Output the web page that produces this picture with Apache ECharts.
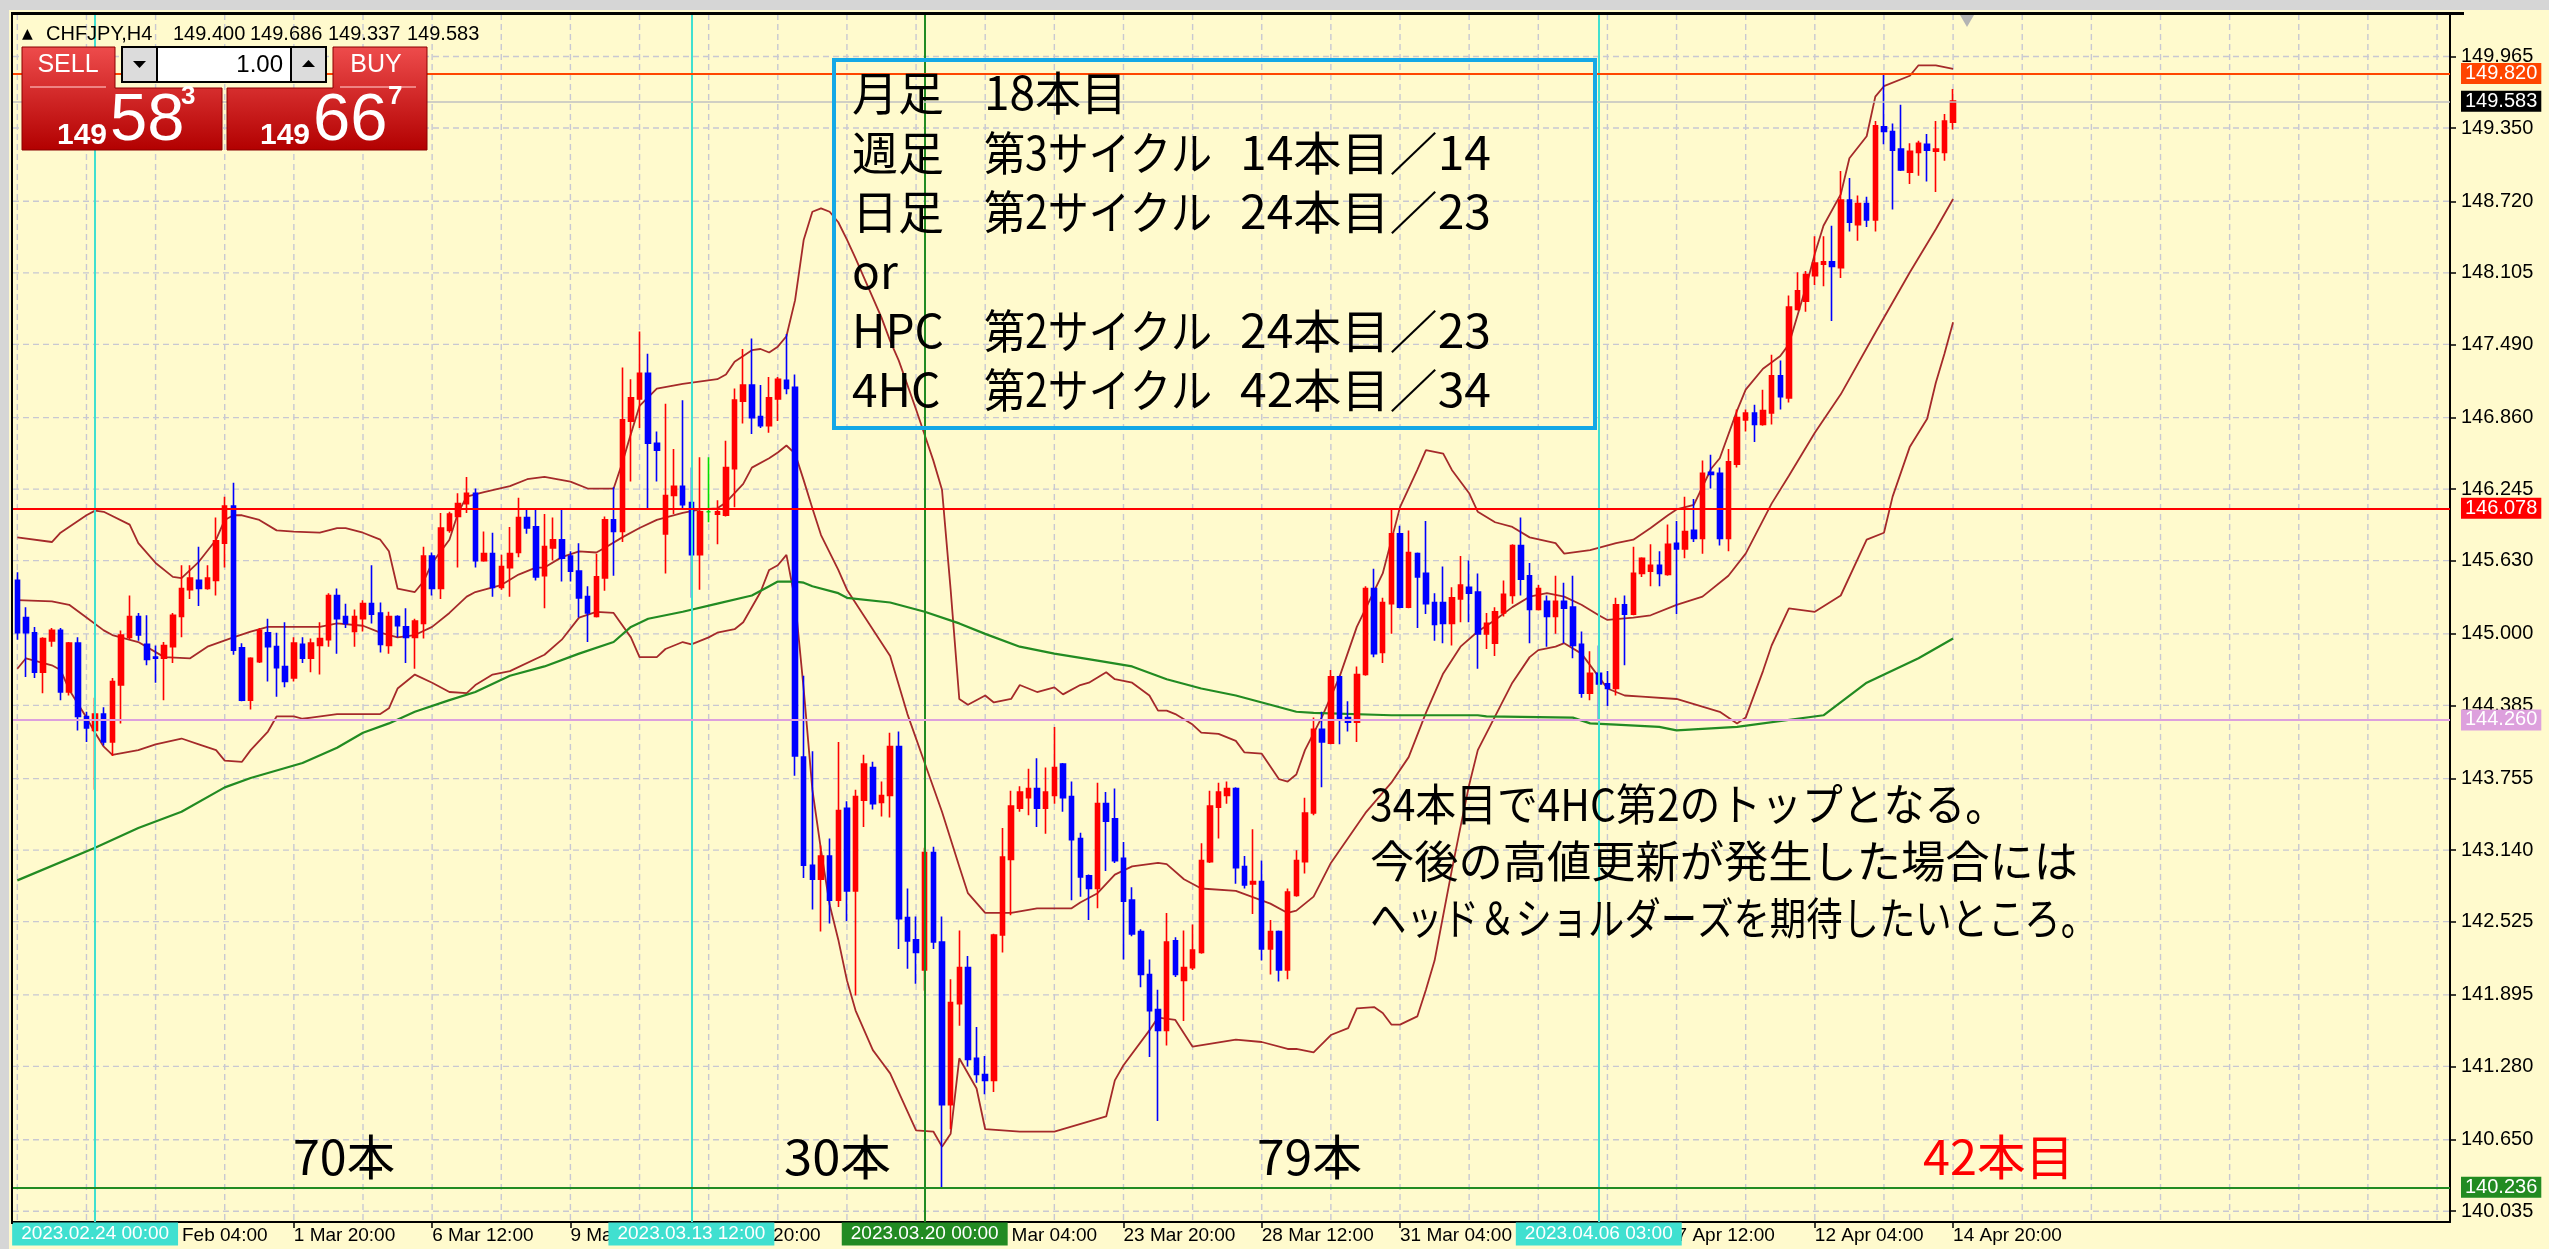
<!DOCTYPE html>
<html>
<head>
<meta charset="utf-8">
<title>CHFJPY H4</title>
<script src="https://cdn.jsdelivr.net/npm/echarts@6/dist/echarts.min.js"></script>
<style>
  html, body { margin: 0; padding: 0; background: #fffacd; }
  #chart { width: 2549px; height: 1249px; }
</style>
</head>
<body>
<div id="chart"></div>
<script>
// H4 bars: [open, close, low, high]
var candles = [
  [145.46,145.01,144.95,145.53],[145.14,145.01,144.63,145.23],[145.01,144.67,144.62,145.06],[144.67,144.96,144.49,144.97],
  [144.94,145.03,144.89,145.05],[145.03,144.50,144.43,145.05],[144.50,144.92,144.47,144.93],[144.92,144.29,144.17,144.97],
  [144.29,144.19,144.07,144.33],[144.17,144.31,143.66,144.45],[144.31,144.07,144.04,144.37],[144.07,144.59,143.95,144.62],
  [144.56,144.99,144.23,145.03],[144.97,145.15,144.95,145.33],[145.15,144.99,144.94,145.18],[144.91,144.78,144.73,145.16],
  [144.80,144.79,144.58,144.90],[144.79,144.90,144.43,144.93],[144.89,145.16,144.75,145.18],[145.15,145.39,144.97,145.59],
  [145.38,145.48,145.30,145.59],[145.46,145.39,145.24,145.75],[145.39,145.48,145.38,145.59],[145.46,145.80,145.33,146.00],
  [145.78,146.10,145.57,146.18],[146.10,144.86,144.82,146.30],[144.88,144.43,144.42,144.92],[144.43,144.79,144.35,144.80],
  [144.76,145.03,144.75,145.05],[145.01,144.89,144.59,145.13],[144.89,144.71,144.46,145.01],[144.72,144.59,144.54,145.10],
  [144.62,144.92,144.59,144.97],[144.91,144.79,144.75,144.97],[144.79,144.92,144.67,144.96],[144.90,144.96,144.65,145.10],
  [144.95,145.33,144.89,145.35],[145.33,145.13,144.83,145.39],[145.15,145.09,145.05,145.26],[145.02,145.15,144.89,145.21],
  [145.13,145.26,145.02,145.29],[145.26,145.17,145.09,145.59],[145.18,144.91,144.84,145.27],[144.90,145.15,144.83,145.19],
  [145.15,145.07,144.97,145.16],[145.06,144.97,144.75,145.22],[144.97,145.11,144.70,145.13],[145.09,145.67,144.96,145.75],
  [145.67,145.39,145.33,145.70],[145.39,145.91,145.30,146.04],[145.89,146.03,145.87,146.05],[146.01,146.12,145.57,146.21],
  [146.12,146.21,146.04,146.35],[146.21,145.63,145.57,146.25],[145.63,145.69,145.62,145.88],[145.69,145.40,145.32,145.87],
  [145.40,145.58,145.38,145.68],[145.57,145.69,145.32,145.92],[145.70,146.00,145.66,146.17],[146.00,145.91,145.86,146.08],
  [145.92,145.49,145.46,146.08],[145.50,145.75,145.22,146.03],[145.74,145.81,145.63,146.00],[145.81,145.65,145.45,146.08],
  [145.67,145.54,145.45,145.71],[145.54,145.31,145.14,145.78],[145.32,145.18,144.93,145.41],[145.15,145.49,145.14,145.69],
  [145.48,145.98,145.37,146.01],[145.98,145.88,145.50,146.26],[145.88,146.84,145.79,147.29],[146.83,147.03,146.31,147.19],
  [147.02,147.24,146.77,147.60],[147.24,146.64,146.07,147.41],[146.64,146.58,146.31,146.74],[145.86,146.19,145.52,146.98],
  [146.19,146.27,146.03,146.59],[146.27,146.11,146.08,147.01],[146.13,145.68,145.31,146.43],[145.68,146.05,145.38,146.52],
  [146.05,146.05,145.96,146.52],[146.03,146.05,145.77,146.15],[146.02,146.43,146.01,146.66],[146.42,147.01,146.09,147.11],
  [147.00,147.14,146.81,147.45],[147.14,146.86,146.72,147.54],[146.87,146.79,146.77,147.14],[146.79,147.03,146.73,147.21],
  [147.02,147.19,146.83,147.21],[147.18,147.11,147.06,147.58],[147.12,143.95,143.78,147.23],[143.94,143.01,142.90,144.64],
  [143.01,142.89,142.63,143.99],[142.89,143.09,142.44,143.18],[143.09,142.71,142.51,143.24],[142.71,143.48,142.65,144.07],
  [143.50,142.79,142.53,143.56],[142.79,143.60,141.89,143.66],[143.57,143.88,143.34,143.96],[143.85,143.54,143.49,143.90],
  [143.55,143.61,143.43,143.73],[143.61,144.03,143.42,144.15],[144.03,142.55,142.29,144.16],[142.56,142.36,142.12,142.81],
  [142.37,142.26,141.99,142.57],[142.11,143.12,141.93,143.16],[143.12,142.35,142.29,143.17],[142.35,140.95,140.236,142.57],
  [140.95,141.83,140.74,142.03],[141.82,142.13,141.63,142.45],[142.13,141.34,141.28,142.23],[141.35,141.21,141.14,141.62],
  [141.21,141.16,141.04,141.37],[141.16,142.41,141.06,142.42],[142.41,143.08,142.26,143.33],[143.06,143.52,142.58,143.65],
  [143.50,143.64,143.47,143.69],[143.59,143.67,143.44,143.84],[143.67,143.50,143.34,143.93],[143.50,143.64,143.28,143.85],
  [143.61,143.85,143.54,144.20],[143.88,143.59,143.47,143.89],[143.60,143.23,142.71,143.73],[143.24,142.91,142.74,143.29],
  [142.92,142.81,142.54,142.93],[142.81,143.54,142.64,143.72],[143.54,143.39,142.96,143.64],[143.41,143.05,143.03,143.67],
  [143.07,142.70,142.20,143.21],[142.71,142.42,142.40,142.82],[142.44,142.07,141.96,142.46],[142.07,141.76,141.36,142.20],
  [141.77,141.59,140.81,141.94],[141.59,142.35,141.46,142.60],[142.36,142.07,142.05,142.39],[142.02,142.13,141.67,142.45],
  [142.13,142.28,142.11,142.50],[142.26,143.05,142.25,143.20],[143.04,143.52,143.03,143.65],[143.51,143.64,143.24,143.72],
  [143.61,143.67,143.54,143.73],[143.67,142.99,142.85,143.68],[143.00,142.84,142.81,143.09],[142.85,142.87,142.59,143.32],
  [142.87,142.29,142.19,143.05],[142.29,142.44,142.07,142.54],[142.44,142.11,142.01,142.45],[142.11,142.78,142.03,142.81],
  [142.75,143.05,142.74,143.14],[143.04,143.46,142.94,143.59],[143.46,144.18,143.44,144.28],[144.18,144.07,143.68,144.33],
  [144.06,144.63,144.05,144.69],[144.63,144.27,144.05,144.64],[144.28,144.24,144.16,144.42],[144.24,144.65,144.07,144.72],
  [144.65,145.39,144.64,145.41],[145.39,144.83,144.80,145.56],[144.84,145.27,144.75,145.31],[145.26,145.86,145.00,146.078],
  [145.86,145.23,145.22,145.93],[145.23,145.70,145.22,145.89],[145.69,145.49,145.05,145.70],[145.52,145.26,145.17,145.97],
  [145.27,145.08,144.94,145.35],[145.27,145.09,144.92,145.58],[145.09,145.31,144.90,145.40],[145.30,145.42,145.10,145.67],
  [145.40,145.35,145.10,145.63],[145.36,145.00,144.70,145.52],[145.00,145.09,144.87,145.18],[144.92,145.19,144.81,145.23],
  [145.18,145.34,145.15,145.46],[145.33,145.76,145.26,145.77],[145.76,145.47,145.33,146.00],[145.50,145.21,144.92,145.61],
  [145.21,145.39,145.20,145.42],[145.28,145.15,144.89,145.33],[145.15,145.28,145.00,145.50],[145.28,145.22,144.92,145.44],
  [145.23,144.90,144.79,145.50],[144.91,144.49,144.45,145.02],[144.49,144.66,144.43,144.85],[144.66,144.57,144.26,144.90],
  [144.57,144.53,144.38,144.68],[144.53,145.25,144.47,145.31],[145.25,145.17,144.73,145.33],[145.17,145.52,145.16,145.75],
  [145.52,145.65,145.49,145.66],[145.54,145.59,145.41,145.77],[145.59,145.52,145.41,145.71],[145.51,145.77,145.50,145.94],
  [145.78,145.73,145.17,145.97],[145.73,145.88,145.65,146.18],[145.89,145.82,145.79,146.16],[145.82,146.38,145.69,146.49],
  [146.39,146.37,146.25,146.54],[146.38,145.82,145.76,146.43],[145.82,146.48,145.71,146.59],[146.46,146.86,146.43,146.93],
  [146.84,146.90,146.74,146.93],[146.90,146.80,146.65,146.97],[146.80,146.92,146.79,147.10],[146.90,147.22,146.80,147.40],
  [147.22,147.04,146.93,147.35],[147.03,147.81,146.99,147.91],[147.79,147.95,147.78,148.11],[147.86,148.09,147.77,148.12],
  [148.08,148.19,148.00,148.42],[148.18,148.20,147.99,148.42],[148.20,148.16,147.69,148.51],[148.15,148.73,148.06,148.98],
  [148.73,148.54,148.46,148.92],[148.52,148.70,148.38,148.77],[148.70,148.56,148.50,148.76],[148.56,149.37,148.46,149.41],
  [149.36,149.32,149.21,149.82],[149.32,149.16,148.65,149.39],[149.17,148.99,148.98,149.55],[148.97,149.15,148.87,149.22],
  [149.14,149.22,148.94,149.24],[149.21,149.16,148.89,149.30],[149.15,149.17,148.80,149.41],[149.14,149.41,149.07,149.47],
  [149.400,149.583,149.337,149.686]
];
var dojiBar = 80;

// Bollinger bands (upper / middle / lower) and long moving average, [bar, price]
var bbUpper = [[0,145.83],[4,145.79],[5,145.87],[8,146.02],[9,146.06],[10,146.05],[13,145.94],[14,145.78],[16,145.61],[18,145.49],[19,145.48],[21,145.62],[23,145.81],[24,145.98],[25,146.02],[26,146.02],[28,145.98],[30,145.89],[32,145.88],[35,145.87],[37,145.91],[38,145.91],[40,145.87],[42,145.81],[43,145.71],[44,145.39],[46,145.36],[47,145.45],[48,145.61],[50,145.81],[51,146.04],[52,146.18],[53,146.20],[54,146.22],[57,146.27],[59,146.33],[61,146.35],[64,146.31],[66,146.25],[69,146.25],[70,146.47],[71,146.72],[72,146.96],[74,147.11],[77,147.15],[81,147.19],[82,147.23],[83,147.34],[85,147.44],[86,147.45],[87,147.42],[88,147.47],[89,147.56],[90,147.87],[91,148.39],[92,148.63],[93,148.66],[94,148.63],[95,148.54],[96,148.39],[97,148.23],[98,148.06],[99,147.89],[100,147.72],[101,147.52],[102,147.35],[103,147.14],[104,146.93],[105,146.71],[106,146.49],[107,146.24],[108,145.38],[109,144.44],[110,144.39],[112,144.47],[113,144.41],[115,144.44],[116,144.56],[118,144.50],[120,144.54],[121,144.48],[123,144.56],[124,144.58],[126,144.67],[127,144.61],[129,144.58],[131,144.47],[132,144.34],[133,144.34],[134,144.31],[136,144.22],[137,144.15],[139,144.14],[141,144.08],[142,143.98],[144,143.97],[145,143.86],[146,143.75],[147,143.73],[148,143.79],[149,144.00],[151,144.29],[153,144.63],[155,145.06],[158,145.52],[160,146.09],[162,146.41],[163,146.58],[165,146.55],[166,146.41],[168,146.21],[169,146.05],[171,145.96],[173,145.92],[175,145.83],[178,145.78],[179,145.69],[182,145.72],[185,145.78],[187,145.81],[189,145.91],[191,146.02],[192,146.07],[194,146.11],[196,146.42],[197,146.51],[199,146.92],[200,147.10],[202,147.28],[204,147.39],[205,147.49],[206,147.74],[207,147.99],[208,148.27],[209,148.51],[211,148.78],[212,149.09],[214,149.28],[215,149.62],[216,149.71],[219,149.80],[220,149.89],[222,149.89],[224,149.86]];
var bbMiddle = [[0,145.29],[4,145.28],[6,145.25],[8,145.14],[10,145.03],[11,144.99],[14,144.93],[17,144.80],[20,144.79],[22,144.89],[25,144.97],[27,145.02],[29,145.06],[33,145.06],[35,145.06],[37,145.09],[40,145.07],[42,145.01],[44,144.97],[46,144.99],[48,145.06],[50,145.18],[52,145.32],[53,145.36],[55,145.40],[56,145.42],[58,145.51],[60,145.57],[61,145.57],[63,145.66],[65,145.71],[67,145.70],[68,145.74],[70,145.83],[72,145.91],[74,145.98],[77,146.04],[79,146.07],[81,146.08],[82,146.13],[84,146.29],[85,146.43],[87,146.51],[88,146.56],[89,146.62],[90,146.55],[91,146.32],[92,146.08],[93,145.85],[95,145.55],[96,145.38],[101,144.81],[103,144.31],[105,143.89],[107,143.47],[109,143.00],[110,142.77],[112,142.60],[115,142.60],[118,142.64],[122,142.64],[123,142.69],[125,142.77],[127,142.93],[129,143.00],[132,143.03],[133,143.02],[135,142.89],[137,142.81],[141,142.79],[145,142.68],[147,142.60],[148,142.62],[150,142.74],[152,143.03],[156,143.46],[159,143.72],[161,143.94],[163,144.32],[165,144.66],[167,144.89],[169,145.02],[171,145.12],[173,145.23],[175,145.32],[177,145.35],[179,145.32],[181,145.25],[183,145.16],[184,145.12],[187,145.14],[189,145.16],[192,145.25],[195,145.32],[198,145.50],[200,145.69],[203,146.12],[205,146.36],[208,146.73],[211,147.06],[215,147.59],[219,148.11],[222,148.48],[224,148.74]];
var bbLower = [[0,144.70],[1,144.79],[4,144.73],[5,144.69],[6,144.52],[8,144.28],[9,144.15],[10,144.03],[11,143.96],[14,144.00],[16,144.05],[19,144.10],[21,144.05],[23,144.00],[24,143.91],[26,143.90],[27,144.00],[29,144.16],[30,144.29],[32,144.29],[33,144.27],[34,144.28],[37,144.31],[42,144.31],[43,144.36],[44,144.53],[46,144.65],[48,144.58],[50,144.50],[52,144.49],[53,144.56],[55,144.65],[57,144.68],[61,144.82],[63,144.95],[65,145.14],[67,145.19],[69,145.18],[71,144.97],[72,144.80],[74,144.80],[75,144.87],[77,144.93],[78,144.91],[80,144.97],[81,145.01],[83,145.04],[84,145.10],[86,145.36],[87,145.55],[88,145.59],[89,145.68],[90,145.29],[91,144.52],[92,143.66],[93,143.14],[94,142.67],[95,142.37],[96,142.02],[97,141.76],[99,141.42],[100,141.32],[101,141.22],[104,140.73],[106,140.72],[107,140.59],[108,140.70],[109,141.35],[111,141.09],[112,140.74],[116,140.72],[120,140.72],[126,140.85],[127,141.16],[128,141.29],[131,141.59],[132,141.70],[134,141.68],[136,141.45],[141,141.51],[144,141.49],[147,141.43],[148,141.43],[150,141.40],[152,141.55],[154,141.61],[155,141.78],[157,141.79],[158,141.74],[159,141.64],[160,141.64],[162,141.71],[163,141.94],[164,142.19],[165,142.58],[166,142.97],[167,143.34],[168,143.70],[169,144.00],[171,144.29],[173,144.58],[175,144.80],[176,144.86],[178,144.89],[179,144.92],[181,144.83],[183,144.63],[184,144.53],[186,144.47],[188,144.46],[192,144.44],[197,144.33],[199,144.23],[200,144.28],[201,144.48],[202,144.68],[203,144.90],[205,145.22],[208,145.19],[211,145.33],[214,145.81],[216,145.87],[217,146.18],[219,146.61],[221,146.85],[222,147.16],[223,147.41],[224,147.68]];
var movingAvg = [[0,142.88],[9,143.16],[14,143.33],[19,143.47],[24,143.68],[27,143.76],[33,143.89],[37,144.02],[40,144.15],[43,144.23],[46,144.33],[50,144.43],[53,144.50],[57,144.64],[61,144.72],[65,144.83],[69,144.93],[71,145.06],[73,145.13],[77,145.19],[81,145.26],[85,145.33],[87,145.41],[88,145.45],[90,145.45],[91,145.44],[92,145.41],[95,145.35],[96,145.31],[101,145.27],[105,145.19],[109,145.09],[112,145.00],[116,144.89],[120,144.83],[125,144.77],[129,144.72],[133,144.61],[137,144.53],[141,144.47],[145,144.39],[148,144.33],[150,144.32],[159,144.30],[169,144.30],[170,144.29],[180,144.28],[182,144.23],[185,144.22],[190,144.20],[192,144.17],[199,144.20],[209,144.30],[214,144.58],[220,144.79],[224,144.96]];

// axis ticks
var priceTicks = [140.035,140.650,141.280,141.895,142.525,143.140,143.755,144.385,145.000,145.630,146.245,146.860,147.490,148.105,148.720,149.350,149.965];
var timeTickIdx = [16,32,48,64,80,96,112,128,144,160,176,192,208,224];
var timeTickText = ['27 Feb 04:00','1 Mar 20:00','6 Mar 12:00','9 Mar 04:00','13 Mar 20:00','16 Mar 12:00','21 Mar 04:00','23 Mar 20:00','28 Mar 12:00','31 Mar 04:00','4 Apr 20:00','7 Apr 12:00','12 Apr 04:00','14 Apr 20:00'];

// horizontal price lines
var levelValues = [149.820, 149.583, 146.078, 144.260, 140.236];
var levelLineColors = ['#ff4500', '#c0c0c0', '#ff0000', '#dda0dd', '#228b22'];
var levelBoxColors = ['#ff4500', '#000000', '#ff0000', '#dda0dd', '#228b22'];

// vertical time lines
var vlineIdx = [9, 78, 105, 183];
var vlineText = ['2023.02.24 00:00', '2023.03.13 12:00', '2023.03.20 00:00', '2023.04.06 03:00'];
var vlineColors = ['#40e0d0', '#40e0d0', '#228b22', '#40e0d0'];

var headerText = ['CHFJPY,H4', '149.400', '149.686', '149.337', '149.583'];
var infoLines = [
  ['月足', '18本目', ''],
  ['週足', '第3サイクル', '14本目／14'],
  ['日足', '第2サイクル', '24本目／23'],
  ['or', '', ''],
  ['HPC', '第2サイクル', '24本目／23'],
  ['4HC', '第2サイクル', '42本目／34']
];
var noteLines = ['34本目で4HC第2のトップとなる。', '今後の高値更新が発生した場合には', 'ヘッド＆ショルダーズを期待したいところ。'];
var countLabels = ['70本', '30本', '79本', '42本目'];

var slotCount = 282;
var categories = [];
for (var i = 0; i < slotCount; i++) categories.push(String(i));

var fontUI = '"Liberation Sans", Arial, sans-serif';
var fontNarrow = '"Liberation Sans Narrow", "Liberation Sans", sans-serif';
var fontJP = '"Noto Sans CJK JP", sans-serif';

var chart = echarts.init(document.getElementById('chart'));

function bandSeries(name, data, color, width) {
  return {
    name: name, type: 'line', data: data, z: 3, silent: true,
    showSymbol: false, symbol: 'none',
    lineStyle: { color: color, width: width }
  };
}

var vGrid = [];
for (var g = 0; g < slotCount; g += 8) vGrid.push([g, 145]);
var hGrid = priceTicks.map(function (v) { return [0, v]; });

var gridStyle = { stroke: '#c8c8d2', lineWidth: 1.4, lineDash: [6, 4] };

var candleData = candles.map(function (c, i) {
  if (i === dojiBar) {
    return { value: c, itemStyle: { color: '#00e000', color0: '#00e000', borderColor: '#00e000', borderColor0: '#00e000' } };
  }
  return c;
});

var option = {
  animation: false,
  backgroundColor: '#fffacd',
  grid: { left: 13, right: 99, top: 14, bottom: 27, outerBoundsMode: 'none' },
  xAxis: {
    type: 'category',
    data: categories,
    boundaryGap: true,
    axisLine: { lineStyle: { color: '#000', width: 2 } },
    axisTick: {
      show: true, alignWithLabel: true, length: 6,
      interval: function (idx) { return timeTickIdx.indexOf(idx) >= 0; },
      lineStyle: { color: '#000', width: 1.5 }
    },
    axisLabel: {
      interval: function (idx) { return timeTickIdx.indexOf(idx) >= 0; },
      formatter: function (v) {
        var p = timeTickIdx.indexOf(Number(v));
        return p >= 0 ? timeTickText[p] : '';
      },
      align: 'left', margin: 4, color: '#000', fontSize: 19, fontFamily: fontUI
    },
    splitLine: { show: false }
  },
  yAxis: {
    type: 'value',
    position: 'right',
    min: 139.942,
    max: 150.331,
    axisLine: { show: true, lineStyle: { color: '#000', width: 2 } },
    axisTick: { show: true, customValues: priceTicks, length: 6, lineStyle: { color: '#000', width: 1.5 } },
    axisLabel: {
      customValues: priceTicks,
      formatter: function (v) { return v.toFixed(3); },
      margin: 11, color: '#000', fontSize: 20, fontFamily: fontUI
    },
    splitLine: { show: false }
  },
  series: [
    {
      type: 'custom', z: 1, silent: true, data: vGrid,
      renderItem: function (params, api) {
        var p = api.coord([api.value(0), api.value(1)]);
        var cs = params.coordSys;
        return { type: 'line', shape: { x1: p[0], y1: cs.y, x2: p[0], y2: cs.y + cs.height }, style: gridStyle };
      }
    },
    {
      type: 'custom', z: 1, silent: true, data: hGrid,
      renderItem: function (params, api) {
        var p = api.coord([api.value(0), api.value(1)]);
        var cs = params.coordSys;
        return { type: 'line', shape: { x1: cs.x, y1: p[1], x2: cs.x + cs.width, y2: p[1] }, style: gridStyle };
      }
    },
    bandSeries('upper', bbUpper, '#a52a2a', 1.8),
    bandSeries('middle', bbMiddle, '#a52a2a', 1.8),
    bandSeries('lower', bbLower, '#a52a2a', 1.8),
    {
      name: 'ma', type: 'line', data: movingAvg, z: 3, silent: true,
      showSymbol: false, symbol: 'none',
      lineStyle: { color: '#228b22', width: 2.2 },
      markLine: {
        silent: true, symbol: ['none', 'none'], animation: false,
        label: { show: false },
        data: vlineIdx.map(function (k, i) {
          return { xAxis: k, lineStyle: { color: vlineColors[i], width: 2, type: 'solid' } };
        })
      }
    },
    {
      name: 'CHFJPY', type: 'candlestick', data: candleData, z: 4, silent: true,
      barWidth: 5,
      itemStyle: { color: '#ff0000', color0: '#0000ff', borderColor: '#ff0000', borderColor0: '#0000ff', borderWidth: 1.6 },
      markLine: {
        silent: true, symbol: ['none', 'none'], animation: false,
        data: levelValues.map(function (v, i) {
          return {
            yAxis: v,
            lineStyle: { color: levelLineColors[i], width: i === 1 ? 1.5 : 2.2, type: 'solid' },
            label: {
              show: true, position: 'end', distance: 11,
              formatter: v.toFixed(3),
              backgroundColor: levelBoxColors[i], color: '#ffffff',
              padding: [1, 4, 0, 4], lineHeight: 20,
              fontSize: 20, fontFamily: fontUI
            }
          };
        })
      }
    }
  ]
};

chart.setOption(option);

// ---------- overlay: window frame, trade panel, texts ----------
var measureCtx = document.createElement('canvas').getContext('2d');
function fitText(text, x, y, size, width, color) {
  measureCtx.font = size + 'px ' + fontJP;
  var w = measureCtx.measureText(text).width;
  var sx = (w > 0 && width) ? width / w : 1;
  return {
    type: 'text', x: x, y: y, scaleX: sx, z: 30,
    style: { text: text, fill: color, font: size + 'px ' + fontJP, align: 'left', verticalAlign: 'middle' }
  };
}

function redFill() {
  return new echarts.graphic.LinearGradient(0, 0, 0, 1, [
    { offset: 0, color: '#ee4c4c' }, { offset: 1, color: '#b20000' }
  ]);
}

var graphics = [
  { type: 'rect', z: 40, shape: { x: 0, y: 0, width: 2549, height: 10 }, style: { fill: '#d6d6d6' } },
  { type: 'rect', z: 40, shape: { x: 0, y: 0, width: 9, height: 1249 }, style: { fill: '#d6d6d6' } },
  { type: 'rect', z: 40, shape: { x: 11, y: 12, width: 2453, height: 3 }, style: { fill: '#000' } },
  { type: 'rect', z: 40, shape: { x: 11, y: 12, width: 2, height: 1212 }, style: { fill: '#000' } },
  { type: 'polygon', z: 40, shape: { points: [[1960, 15], [1974, 15], [1967, 27]] }, style: { fill: '#b4b4b4' } },
  { type: 'text', z: 30, x: 22, y: 34, style: { text: '▲', fill: '#000', font: '14px "DejaVu Sans"', verticalAlign: 'middle' } },

  // trade panel
  { type: 'polygon', z: 30, shape: { points: [[22, 47], [115, 47], [115, 88], [222, 88], [222, 150], [22, 150]] }, style: { fill: redFill(), stroke: '#8a0000', lineWidth: 1 } },
  { type: 'polygon', z: 30, shape: { points: [[333, 47], [427, 47], [427, 150], [227, 150], [227, 88], [333, 88]] }, style: { fill: redFill(), stroke: '#8a0000', lineWidth: 1 } },
  { type: 'line', z: 31, shape: { x1: 30, y1: 87, x2: 106, y2: 87 }, style: { stroke: '#f6a0a0', lineWidth: 1.5 } },
  { type: 'line', z: 31, shape: { x1: 340, y1: 87, x2: 416, y2: 87 }, style: { stroke: '#f6a0a0', lineWidth: 1.5 } },
  { type: 'text', z: 31, x: 68, y: 65, style: { text: 'SELL', fill: '#fff', font: '25px ' + fontUI, align: 'center', verticalAlign: 'middle' } },
  { type: 'text', z: 31, x: 376, y: 65, style: { text: 'BUY', fill: '#fff', font: '25px ' + fontUI, align: 'center', verticalAlign: 'middle' } },
  { type: 'text', z: 31, x: 57, y: 136, style: { text: '149', fill: '#fff', font: 'bold 30px ' + fontNarrow, verticalAlign: 'middle' } },
  { type: 'text', z: 31, x: 110, y: 122, style: { text: '58', fill: '#fff', font: '67px ' + fontNarrow, verticalAlign: 'middle' } },
  { type: 'text', z: 31, x: 181, y: 97, style: { text: '3', fill: '#fff', font: 'bold 26px ' + fontNarrow, verticalAlign: 'middle' } },
  { type: 'text', z: 31, x: 260, y: 136, style: { text: '149', fill: '#fff', font: 'bold 30px ' + fontNarrow, verticalAlign: 'middle' } },
  { type: 'text', z: 31, x: 313, y: 122, style: { text: '66', fill: '#fff', font: '67px ' + fontNarrow, verticalAlign: 'middle' } },
  { type: 'text', z: 31, x: 388, y: 97, style: { text: '7', fill: '#fff', font: 'bold 26px ' + fontNarrow, verticalAlign: 'middle' } },
  { type: 'rect', z: 31, shape: { x: 122, y: 47, width: 35, height: 35 }, style: { fill: '#dcdcdc', stroke: '#000', lineWidth: 2 } },
  { type: 'rect', z: 31, shape: { x: 157, y: 47, width: 134, height: 35 }, style: { fill: '#fff', stroke: '#000', lineWidth: 2 } },
  { type: 'rect', z: 31, shape: { x: 291, y: 47, width: 35, height: 35 }, style: { fill: '#dcdcdc', stroke: '#000', lineWidth: 2 } },
  { type: 'polygon', z: 32, shape: { points: [[133, 61], [146, 61], [139.5, 68]] }, style: { fill: '#000' } },
  { type: 'polygon', z: 32, shape: { points: [[302, 67], [315, 67], [308.5, 60]] }, style: { fill: '#000' } },
  { type: 'text', z: 32, x: 283, y: 65, style: { text: '1.00', fill: '#000', font: '24px ' + fontUI, align: 'right', verticalAlign: 'middle' } },

  // info box
  { type: 'rect', z: 29, shape: { x: 834, y: 60, width: 761, height: 368 }, style: { fill: 'none', stroke: '#14a8e6', lineWidth: 4 } }
];

// header: symbol and OHLC
var headerX = [46, 173, 250, 328, 407];
headerText.forEach(function (t, i) {
  graphics.push({ type: 'text', z: 30, x: headerX[i], y: 34, style: { text: t, fill: '#000', font: '20px ' + fontUI, verticalAlign: 'middle' } });
});

// info box lines; segment start x and the width each column takes in the picture
var infoX = [852, 984, 1240];
var infoW = [0, 228, 251];
infoLines.forEach(function (row, r) {
  row.forEach(function (seg, c) {
    if (!seg) return;
    var fitW = (c === 1 && seg.indexOf('サイクル') >= 0) || c === 2 ? infoW[c] : 0;
    graphics.push(fitText(seg, infoX[c], 93 + r * 59.4, 46, fitW, '#000'));
  });
});

var noteWidths = [636, 708, 727];
noteLines.forEach(function (t, r) {
  graphics.push(fitText(t, 1370, 804 + r * 57, 44, noteWidths[r], '#000'));
});

var countX = [293, 784, 1257, 1923];
var countW = [102, 107, 105, 151];
countLabels.forEach(function (t, r) {
  graphics.push(fitText(t, countX[r], 1157, 48, countW[r], r === 3 ? '#ff0000' : '#000'));
});

// date boxes under the vertical lines
vlineIdx.forEach(function (k, i) {
  var px = chart.convertToPixel({ xAxisIndex: 0 }, k);
  graphics.push({
    type: 'text', z: 35, x: px, y: 1234,
    style: {
      text: vlineText[i], fill: '#ffffff', font: '19px ' + fontUI,
      align: 'center', verticalAlign: 'middle',
      backgroundColor: vlineColors[i], padding: [1, 9, 0, 9], lineHeight: 22
    }
  });
});

chart.setOption({ graphic: graphics });
</script>
</body>
</html>
